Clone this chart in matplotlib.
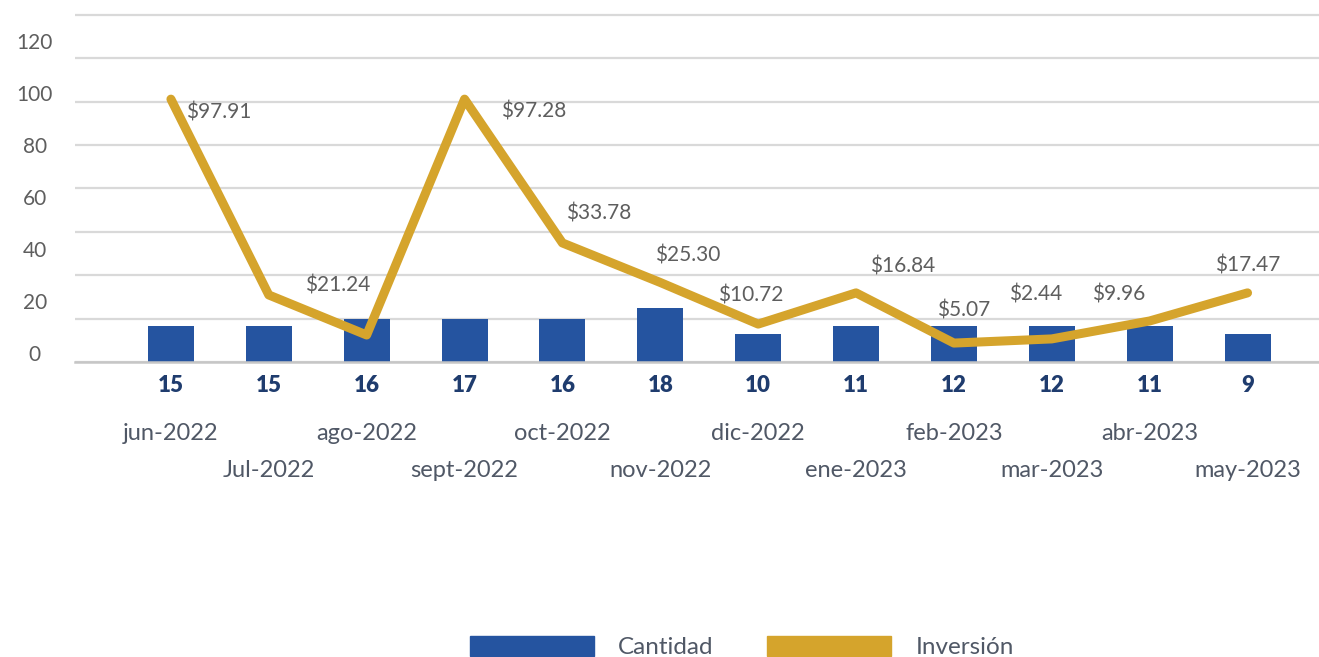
import matplotlib.pyplot as plt
from matplotlib.patches import Patch

# data
months = ['jun-2022', 'Jul-2022', 'ago-2022', 'sept-2022', 'oct-2022', 'nov-2022',
          'dic-2022', 'ene-2023', 'feb-2023', 'mar-2023', 'abr-2023', 'may-2023']
cantidad = [15, 15, 16, 17, 16, 18, 10, 11, 12, 12, 11, 9]          # printed counts
bar_height = [16.6, 16.6, 20, 20, 20, 24.9, 12.9, 16.6, 16.6, 16.6, 16.6, 12.9]  # drawn height (grid units)
inversion = [97.5, 22.2, 6.8, 97.5, 42.2, 27.0, 11.0, 23.0, 3.7, 5.3, 12.2, 23.0]  # line (left axis units)
inv_labels = ['$97.91', '$21.24', '', '$97.28', '$33.78', '$25.30',
              '$10.72', '$16.84', '$5.07', '$2.44', '$9.96', '$17.47']
yticks = [0, 20, 40, 60, 80, 100, 120]

# label offsets in pixels from each line point
label_offsets = [(48, -13), (69, 9), (0, 0), (69, -12), (36, 29), (27, 27),
                 (-7, 29), (47, 26), (10, 33), (-16, 44), (-31, 26), (0, 27)]

BLUE = '#2554A0'
GOLD = '#D5A42C'
GRID = '#D9D9D9'
TXT = '#5E5E5E'
SLATE = '#505866'
NAVY = '#1F3C6E'

plt.rcParams['font.family'] = ['Lato', 'DejaVu Sans']

fig = plt.figure(figsize=(13.19, 6.57), dpi=100)
ax = fig.add_axes([0.05686, 0.44901, 0.94314, 0.53151])

x = list(range(len(months)))
ax.bar(x, bar_height, width=0.47, color=BLUE, zorder=2)
ax.set_xlim(-0.98, 11.73)
ax.set_ylim(0, 161)
ax.set_yticks(range(0, 161, 20))
ax.grid(axis='y', color=GRID, linewidth=1.6)
ax.set_axisbelow(True)
for s in ['left', 'top', 'right']:
    ax.spines[s].set_visible(False)
ax.spines['bottom'].set_color('#C6C6C6')
ax.spines['bottom'].set_linewidth(1.8)

# month labels in two staggered rows
month_lbls = [m if i % 2 == 0 else '\n' + m for i, m in enumerate(months)]
ax.set_xticks(x)
ax.set_xticklabels(month_lbls, fontsize=17, color=SLATE, linespacing=1.95)
ax.tick_params(axis='x', length=0, pad=44)

# bold counts right under the bars
sec = ax.secondary_xaxis('bottom')
sec.set_xticks(x)
sec.set_xticklabels([str(c) for c in cantidad], fontsize=16, fontweight='heavy', color=NAVY)
sec.tick_params(length=0, pad=9)
sec.spines['bottom'].set_visible(False)

# line on its own scale, labelled on the left
ax2 = ax.twinx()
ax2.plot(x, inversion, color=GOLD, linewidth=6.5, solid_capstyle='round',
         solid_joinstyle='round', zorder=3)
ax2.set_ylim(-3.58, 130.7)
ax2.yaxis.tick_left()
ax2.set_yticks(yticks)
ax2.tick_params(axis='y', length=0, pad=29, labelsize=15, labelcolor=TXT)
for lab in ax2.get_yticklabels():
    lab.set_ha('center')
for s in ax2.spines.values():
    s.set_visible(False)
ax.tick_params(axis='y', left=False, labelleft=False, right=False, labelright=False)

for i, (v, t) in enumerate(zip(inversion, inv_labels)):
    if t:
        ax2.annotate(t, (i, v), xytext=label_offsets[i], textcoords='offset pixels',
                     ha='center', va='center', fontsize=15, color=TXT)

handles = [Patch(color=BLUE, label='Cantidad'), Patch(color=GOLD, label='Inversión')]
leg = fig.legend(handles=handles, loc='center', bbox_to_anchor=(742 / 1319, 1 - 647 / 657),
                 ncol=2, frameon=False, fontsize=17.5, handlelength=5.1, handleheight=0.9,
                 handletextpad=1.0, columnspacing=2.2)
for t in leg.get_texts():
    t.set_color(SLATE)

fig.savefig('out.png', dpi=100)
